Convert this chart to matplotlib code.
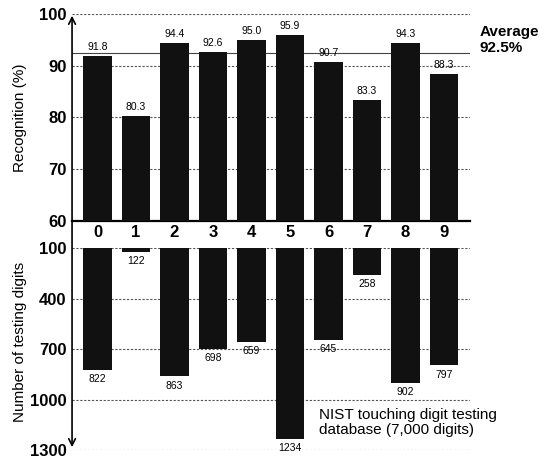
import matplotlib.pyplot as plt
from matplotlib.patches import FancyArrowPatch

# Datos
digits = ['0', '1', '2', '3', '4', '5', '6', '7', '8', '9']
recognition = [91.8, 80.3, 94.4, 92.6, 95.0, 95.9, 90.7, 83.3, 94.3, 88.3]
n_testing = [822, 122, 863, 698, 659, 1234, 645, 258, 902, 797]
average = 92.5

plt.rcParams['font.family'] = ['Liberation Sans', 'DejaVu Sans']
bar_color = '#111111'
x = list(range(len(digits)))

fig = plt.figure(figsize=(5.5, 4.62), dpi=100)
left, width = 0.131, 0.724

# Panel superior: reconocimiento
ax1 = fig.add_axes([left, 0.522, width, 0.448])
ax1.bar(x, recognition, width=0.73, bottom=0, color=bar_color, zorder=3)
ax1.set_ylim(60, 100)
ax1.set_xlim(-0.66, 9.68)
ax1.set_yticks([60, 70, 80, 90, 100])
ax1.set_yticklabels(['60', '70', '80', '90', '100'], fontsize=12, fontweight='bold')
ax1.set_xticks([])
for s in ['top', 'right', 'left']:
    ax1.spines[s].set_visible(False)
ax1.spines['bottom'].set_linewidth(1.6)
ax1.tick_params(axis='y', length=0, pad=4)
for g in [70, 80, 90, 100]:
    ax1.axhline(g, color='#555555', lw=0.8, ls=(0, (2, 1.5)), zorder=1)
ax1.axhline(average, color='#444444', lw=0.8, zorder=1)
for xi, v in zip(x, recognition):
    ax1.text(xi, v + 0.8, f'{v:.1f}', ha='center', va='bottom', fontsize=7.5, zorder=4)
fig.text(0.036, 0.746, 'Recognition (%)', fontsize=11, rotation=90,
         ha='center', va='center')
fig.text(0.872, 0.945, 'Average\n92.5%', fontsize=11, fontweight='bold',
         ha='left', va='top', linespacing=1.1)

# Panel inferior: numero de digitos
ax2 = fig.add_axes([left, 0.026, width, 0.437])
ax2.bar(x, n_testing, width=0.73, color=bar_color, zorder=3)
ax2.set_ylim(1300, 100)
ax2.set_xlim(-0.66, 9.68)
ax2.set_yticks([100, 400, 700, 1000, 1300])
ax2.set_yticklabels(['100', '400', '700', '1000', '1300'], fontsize=12, fontweight='bold')
ax2.set_xticks(x)
ax2.set_xticklabels(digits, fontsize=12, fontweight='bold')
ax2.xaxis.tick_top()
ax2.tick_params(axis='x', length=0, pad=6)
ax2.tick_params(axis='y', length=0, pad=4)
for s in ['top', 'right', 'left', 'bottom']:
    ax2.spines[s].set_visible(False)
for g in [100, 400, 700, 1000, 1300]:
    ax2.axhline(g, color='#555555', lw=0.8, ls=(0, (2, 1.5)), zorder=1)
for xi, v in zip(x, n_testing):
    ax2.text(xi, v + 25, str(v), ha='center', va='top', fontsize=7.5, zorder=4)
fig.text(0.036, 0.26, 'Number of testing digits', fontsize=11, rotation=90,
         ha='center', va='center')
ax2.text(0.62, 0.21, 'NIST touching digit testing\ndatabase (7,000 digits)',
         transform=ax2.transAxes, fontsize=11, ha='left', va='top', linespacing=1.1)

# Eje vertical con flechas
arrow = FancyArrowPatch((left, 0.026), (left, 0.972), transform=fig.transFigure,
                        arrowstyle='<->', mutation_scale=12, lw=1.2, color='black')
fig.add_artist(arrow)

plt.savefig('out.png', dpi=100)
